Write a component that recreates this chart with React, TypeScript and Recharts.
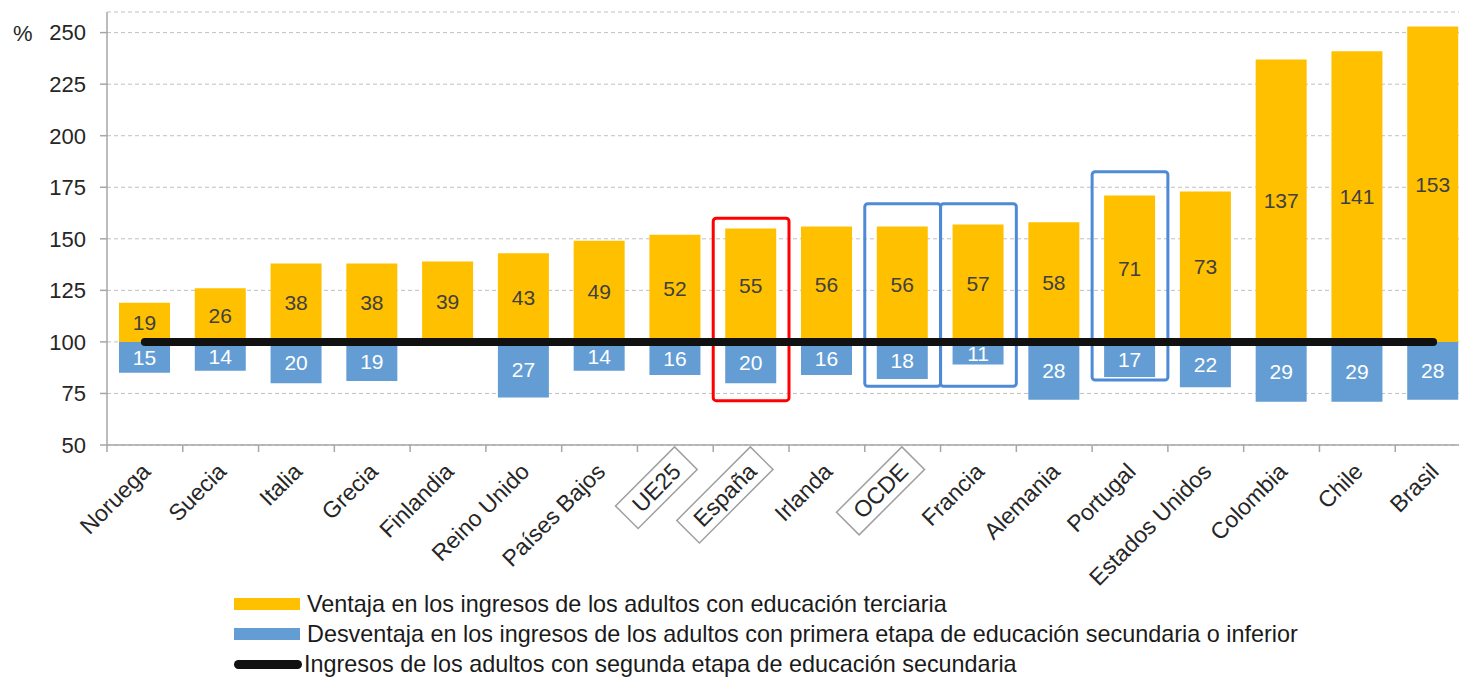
import React, { useLayoutEffect, useRef, useState } from "react"
import {
  ComposedChart,
  Bar,
  Line,
  XAxis,
  YAxis,
  CartesianGrid,
  LabelList,
  ReferenceArea,
} from "recharts"

const categorias = [
  "Noruega", "Suecia", "Italia", "Grecia", "Finlandia", "Reino Unido",
  "Países Bajos", "UE25", "España", "Irlanda", "OCDE", "Francia",
  "Alemania", "Portugal", "Estados Unidos", "Colombia", "Chile", "Brasil",
]
// ventaja de los adultos con educación terciaria (puntos sobre 100)
const ventaja = [19, 26, 38, 38, 39, 43, 49, 52, 55, 56, 56, 57, 58, 71, 73, 137, 141, 153]
// desventaja de los adultos con primera etapa de secundaria o inferior
const desventaja = [15, 14, 20, 19, null, 27, 14, 16, 20, 16, 18, 11, 28, 17, 22, 29, 29, 28]
const nivelBase = 100
const yTicks = [50, 75, 100, 125, 150, 175, 200, 225, 250]
const enmarcados = ["UE25", "España", "OCDE"]
const destacados = [
  { pais: "España", desde: 71.5, hasta: 160, color: "#ff0000" },
  { pais: "OCDE", desde: 78.5, hasta: 167, color: "#4f8ad6" },
  { pais: "Francia", desde: 78.5, hasta: 167, color: "#4f8ad6" },
  { pais: "Portugal", desde: 81.5, hasta: 182.5, color: "#4f8ad6" },
]

const AMARILLO = "#ffc000"
const AZUL = "#639dd4"
const FONT = '"Liberation Sans", Arial, sans-serif'

const data = categorias.map((pais, i) => ({
  pais,
  base: nivelBase - (desventaja[i] ?? 0),
  desventaja: desventaja[i],
  ventaja: ventaja[i],
  nivel: nivelBase,
}))

function PaisTick(props: any) {
  const { x, y, payload } = props
  const ref = useRef<SVGTextElement>(null)
  const [w, setW] = useState(0)
  const boxed = enmarcados.includes(payload.value)
  useLayoutEffect(() => {
    if (boxed && ref.current) setW(ref.current.getComputedTextLength())
  }, [boxed, payload.value])
  const half = payload.offset || 37.9
  return (
    <g>
      <line x1={x - half} x2={x - half} y1={y} y2={y + 7} stroke="#a6a6a6" strokeWidth={1.5} />
      <g transform={`translate(${x + 7},${y + 28}) rotate(-45)`}>
        {boxed && w > 0 && (
          <rect x={-w - 13} y={-24} width={w + 26} height={32} fill="#fff" stroke="#a0a0a0" strokeWidth={1.5} />
        )}
        <text ref={ref} x={0} y={0} textAnchor="end" fontSize={23} fill="#262626" fontFamily={FONT}>
          {payload.value}
        </text>
      </g>
    </g>
  )
}

function Leyenda() {
  const filas = [
    { color: AMARILLO, linea: false, texto: "Ventaja en los ingresos de los adultos con educación terciaria" },
    { color: AZUL, linea: false, texto: "Desventaja en los ingresos de los adultos con primera etapa de educación secundaria o inferior" },
    { color: "#111", linea: true, texto: "Ingresos de los adultos con segunda etapa de educación secundaria" },
  ]
  return (
    <div style={{ position: "absolute", left: 234, top: 589, fontFamily: FONT, fontSize: 23.4, color: "#1a1a1a" }}>
      {filas.map((f) => (
        <div key={f.texto} style={{ display: "flex", alignItems: "center", height: 30 }}>
          <span
            style={{
              display: "inline-block",
              width: f.linea ? 68 : 66,
              height: f.linea ? 9 : 12,
              borderRadius: f.linea ? 5 : 0,
              background: f.color,
              marginRight: f.linea ? 2 : 7,
            }}
          />
          <span style={{ whiteSpace: "nowrap" }}>{f.texto}</span>
        </div>
      ))}
    </div>
  )
}

export default function App() {
  return (
    <div style={{ position: "absolute", left: 0, top: 0, width: 1459, height: 677, overflow: "hidden", background: "#fff" }}>
      <ComposedChart
        width={1475}
        height={677}
        data={data}
        margin={{ top: 12, right: 4, bottom: 0, left: 0 }}
        barSize={51}
      >
        <CartesianGrid vertical={false} stroke="#c0c0c0" strokeDasharray="4 3" />
        <XAxis
          dataKey="pais"
          interval={0}
          height={232}
          tickLine={false}
          tickSize={0}
          tickMargin={0}
          axisLine={{ stroke: "#a6a6a6", strokeWidth: 1.5 }}
          tick={<PaisTick />}
        />
        <YAxis
          width={107}
          domain={[50, 260]}
          allowDataOverflow
          ticks={yTicks}
          tickSize={7}
          tickMargin={14}
          axisLine={{ stroke: "#a6a6a6", strokeWidth: 1.5 }}
          tickLine={{ stroke: "#a6a6a6", strokeWidth: 1.5 }}
          tick={{ fontSize: 22, fill: "#262626", fontFamily: FONT }}
        />
        <Bar dataKey="base" stackId="s" fill="transparent" isAnimationActive={false} />
        <Bar dataKey="desventaja" stackId="s" fill={AZUL} isAnimationActive={false}>
          <LabelList dataKey="desventaja" position="center" fill="#ffffff" fontSize={21} fontFamily={FONT} />
        </Bar>
        <Bar dataKey="ventaja" stackId="s" fill={AMARILLO} isAnimationActive={false}>
          <LabelList dataKey="ventaja" position="center" fill="#404040" fontSize={21} fontFamily={FONT} />
        </Bar>
        <Line
          dataKey="nivel"
          stroke="#111111"
          strokeWidth={8}
          strokeLinecap="round"
          dot={false}
          activeDot={false}
          isAnimationActive={false}
        />
        {destacados.map((d) => (
          <ReferenceArea
            key={d.pais}
            x1={d.pais}
            x2={d.pais}
            y1={d.desde}
            y2={d.hasta}
            fill="none"
            fillOpacity={0}
            stroke={d.color}
            strokeWidth={3}
            radius={3}
            ifOverflow="visible"
          />
        ))}
      </ComposedChart>
      <div style={{ position: "absolute", left: 13, top: 21, fontFamily: FONT, fontSize: 22, color: "#262626" }}>%</div>
      <Leyenda />
    </div>
  )
}
